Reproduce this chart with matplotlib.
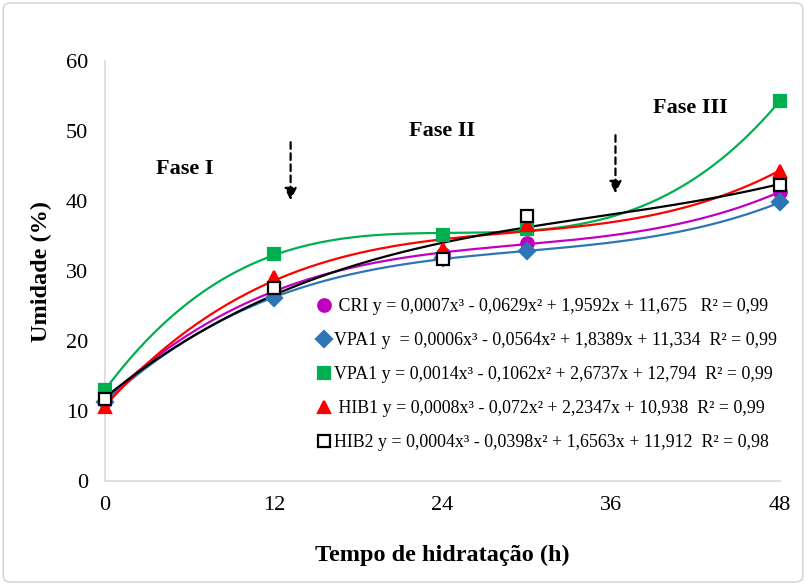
import numpy as np
import matplotlib.pyplot as plt
from matplotlib.lines import Line2D
from matplotlib.patches import FancyBboxPatch

plt.rcParams['font.family'] = ['Liberation Serif', 'DejaVu Serif']

# hours of hydration
hours = [0, 12, 24, 30, 48]

# moisture (%)
cri = [11.5, 27.2, 32.4, 34.0, 41.3]
vpa1 = [11.3, 26.2, 31.8, 32.8, 39.8]
vpa1_b = [13.0, 32.4, 35.1, 36.0, 54.3]
hib1 = [10.6, 29.2, 33.2, 36.6, 44.3]
hib2 = [11.7, 27.6, 31.7, 37.9, 42.3]

labels = [
    ' CRI y = 0,0007x³ - 0,0629x² + 1,9592x + 11,675   R² = 0,99',
    'VPA1 y  = 0,0006x³ - 0,0564x² + 1,8389x + 11,334  R² = 0,99',
    'VPA1 y = 0,0014x³ - 0,1062x² + 2,6737x + 12,794  R² = 0,99',
    ' HIB1 y = 0,0008x³ - 0,072x² + 2,2347x + 10,938  R² = 0,99',
    'HIB2 y = 0,0004x³ - 0,0398x² + 1,6563x + 11,912  R² = 0,98',
]

series = [
    (cri, '#C000C0', 'o', '#C000C0'),
    (vpa1, '#2E75B6', 'D', '#2E75B6'),
    (vpa1_b, '#00B050', 's', '#00B050'),
    (hib1, '#FF0000', '^', '#FF0000'),
    (hib2, '#000000', 's', 'white'),
]

fig = plt.figure(figsize=(8.06, 5.85), dpi=100)
ax = fig.add_axes([105 / 806, 1 - 481 / 585, 675 / 806, 420 / 585])

# light rounded border around the whole figure
fig.patches.append(FancyBboxPatch((0.004, 0.005), 0.992, 0.99, boxstyle='round,pad=0,rounding_size=0.01',
                                  transform=fig.transFigure, fill=False, edgecolor='#D0D0D0', linewidth=1))

xs = np.linspace(0, 48, 200)
handles = []
for (vals, color, marker, face) in series:
    coef = np.polyfit(hours, vals, 3)
    ax.plot(xs, np.polyval(coef, xs), color=color, lw=1.6, zorder=2)
    ms = 9 if marker != 'D' else 8
    ax.plot(hours, vals, linestyle='none', marker=marker, ms=ms, mfc=face, mec=color,
            mew=1.6, zorder=3, clip_on=False)
    handles.append(Line2D([], [], linestyle='none', marker=marker, ms=ms, mfc=face, mec=color, mew=1.6))

ax.legend(handles, labels, loc='upper left', bbox_to_anchor=(0.303, 0.452), frameon=False,
          fontsize=12.9, handlelength=0.8, handletextpad=0.15, labelspacing=0.95, borderaxespad=0)

# phase arrows
arrow = dict(arrowstyle='-|>', linestyle=(0, (3, 2)), color='black', lw=1.6, mutation_scale=18)
ax.annotate('', xy=(13.2, 39.7), xytext=(13.2, 48.8), arrowprops=arrow)
ax.annotate('', xy=(36.3, 40.7), xytext=(36.3, 49.8), arrowprops=arrow)
ax.text(5.7, 44.6, 'Fase I', fontsize=16, fontweight='bold', ha='center', va='center')
ax.text(24.0, 50.0, 'Fase II', fontsize=16, fontweight='bold', ha='center', va='center')
ax.text(41.6, 53.3, 'Fase III', fontsize=16, fontweight='bold', ha='center', va='center')

ax.set_xlim(0, 48)
ax.set_ylim(0, 60)
ax.set_xticks([0, 12, 24, 36, 48])
ax.set_yticks(range(0, 61, 10))
ax.tick_params(length=0, labelsize=16, pad=11)
ax.tick_params(axis='y', pad=12)
for s in ['top', 'right']:
    ax.spines[s].set_visible(False)
for s in ['left', 'bottom']:
    ax.spines[s].set_color('#D9D9D9')
    ax.spines[s].set_linewidth(1.2)

ax.set_xlabel('Tempo de hidratação (h)', fontsize=17.5, fontweight='bold', labelpad=21)
ax.set_ylabel('Umidade (%)', fontsize=17.5, fontweight='bold', labelpad=10)

fig.savefig('out.png', dpi=100)
